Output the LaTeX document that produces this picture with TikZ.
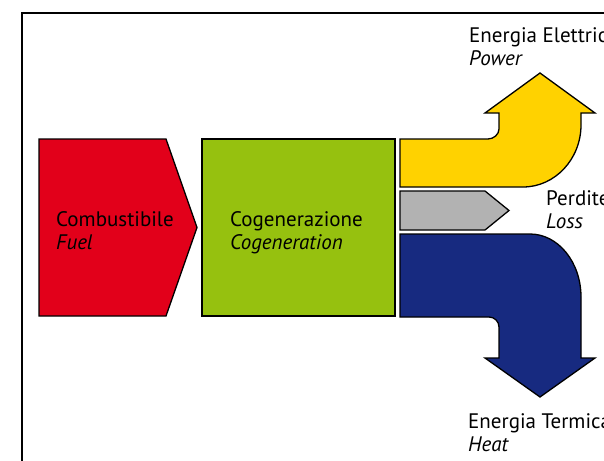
\documentclass[tikz,border=0pt]{standalone}
\usepackage{fontspec}
\setmainfont{PT Sans}
\usepackage{xcolor}
\definecolor{fuelred}{RGB}{226, 0, 26}
\definecolor{cogreen}{RGB}{150, 193, 15}
\definecolor{powyellow}{RGB}{255, 210, 0}
\definecolor{lossgray}{RGB}{178, 178, 178}
\definecolor{heatblue}{RGB}{23, 42, 128}
\usepackage{tikz}

\begin{document}
\begin{tikzpicture}[
        x=1pt, y=-1pt,
        flow/.style={draw=black, line width=1.3pt, line join=miter},
        lbl/.style={anchor=base west, inner sep=0pt, align=left, font=\fontsize{21}{23}\selectfont}
    ]
    \clip (0,0) rectangle (604,460);
    % frame
    \draw[line width=1.6pt] (22,13) rectangle (700,520);
    % fuel and cogeneration
    \draw[flow, fill=fuelred] (39,139) -- (166,139) -- (197,227.5) -- (166,316) -- (39,316) -- cycle;
    \draw[flow, fill=cogreen] (202,139) rectangle (395,316);
    % power
    \draw[flow, fill=powyellow] (400,139) -- (488,139) .. controls (493.5,139) and (499,134.5) .. (499,129)
        -- (499,113) -- (485,113) -- (540,73) -- (595,113) -- (581,113) -- (581,125)
        .. controls (581,159) and (555,187) .. (523,187) -- (400,187) -- cycle;
    % loss
    \draw[flow, fill=lossgray] (400,191) -- (485,191) -- (509,210.5) -- (485,230) -- (400,230) -- cycle;
    % heat
    \draw[flow, fill=heatblue] (400,234) -- (530,234) .. controls (558,234) and (581,262) .. (581,297)
        -- (581,358) -- (595,358) -- (540,397) -- (485,358) -- (499,358) -- (499,327)
        .. controls (499,321.5) and (494.5,317) .. (489,317) -- (400,317) -- cycle;
    % labels
    \node[lbl] (fuel) at (56,249) {Combustibile\\\textit{Fuel}};
    \node[lbl] (cogen) at (230,249) {Cogenerazione\\\textit{Cogeneration}};
    \node[lbl] (power) at (469,65) {Energia Elettrica\\\textit{Power}};
    \node[lbl] (loss) at (546,228) {Perdite\\\textit{Loss}};
    \node[lbl] (heat) at (468,451) {Energia Termica\\\textit{Heat}};
\end{tikzpicture}
\end{document}
